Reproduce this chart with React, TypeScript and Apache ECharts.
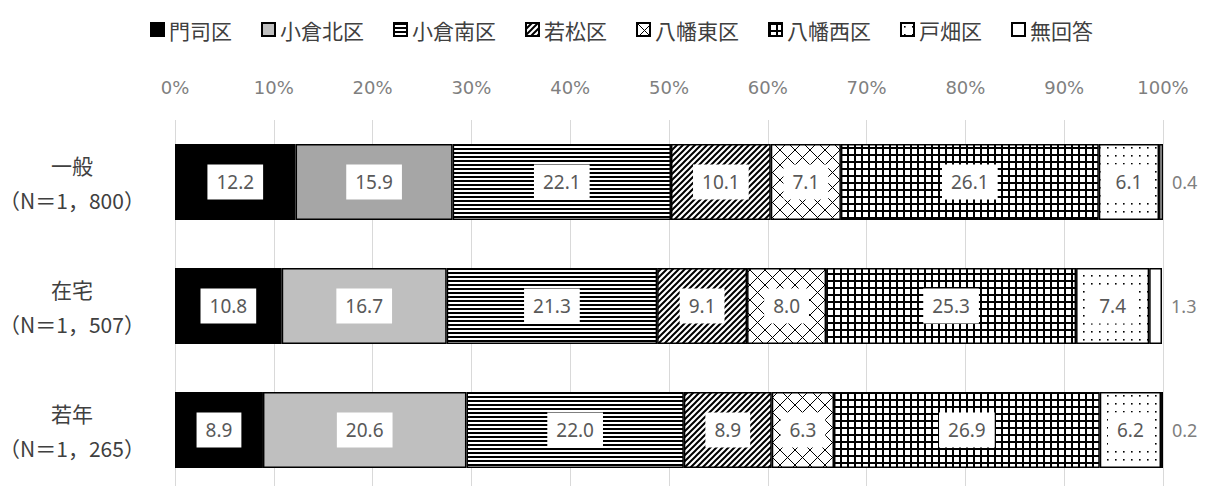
import React, { useEffect, useRef } from "react";
import * as echarts from "echarts";

const categories = ["一般\n（N＝1，800）", "在宅\n（N＝1，507）", "若年\n（N＝1，265）"];
const seriesNames = ["門司区", "小倉北区", "小倉南区", "若松区", "八幡東区", "八幡西区", "戸畑区", "無回答"];
const moji = [12.2, 10.8, 8.9];
const kokuraKita = [15.9, 16.7, 20.6];
const kokuraMinami = [22.1, 21.3, 22.0];
const wakamatsu = [10.1, 9.1, 8.9];
const yahataHigashi = [7.1, 8.0, 6.3];
const yahataNishi = [26.1, 25.3, 26.9];
const tobata = [6.1, 7.4, 6.2];
const noAnswer = [0.4, 1.3, 0.2];
const seriesValues = [moji, kokuraKita, kokuraMinami, wakamatsu, yahataHigashi, yahataNishi, tobata, noAnswer];

const svgUrl = (w: number, h: number, body: string) =>
  "data:image/svg+xml;charset=utf-8," +
  encodeURIComponent(
    `<svg xmlns="http://www.w3.org/2000/svg" width="${w}" height="${h}"><rect width="${w}" height="${h}" fill="#ffffff"/>${body}</svg>`
  );

const pattern = (w: number, h: number, body: string) => ({
  image: svgUrl(w, h, body),
  imageWidth: w,
  imageHeight: h,
  repeat: "repeat",
});

const fills: any[] = [
  "#000000",
  "#bfbfbf",
  pattern(4, 4, `<rect x="0" y="0" width="4" height="2" fill="#000"/>`),
  pattern(6, 6, `<path d="M-1,7 L7,-1 M-1,1 L1,-1 M5,7 L7,5" stroke="#000" stroke-width="2" fill="none"/>`),
  pattern(15, 15, `<path d="M0,0 L15,15 M15,0 L0,15" stroke="#000" stroke-width="1" fill="none"/>`),
  pattern(7, 7, `<rect x="0" y="0" width="2" height="7" fill="#000"/><rect x="0" y="0" width="7" height="2" fill="#000"/>`),
  pattern(8, 8, `<rect x="3" y="3" width="1.6" height="1.6" fill="#000"/>`),
  "#ffffff",
];

export default function App() {
  const ref = useRef<HTMLDivElement>(null);
  useEffect(() => {
    if (!ref.current) return;
    const chart = echarts.init(ref.current, undefined, { renderer: "svg" });
    const series = seriesNames.map((name, si) => {
      const isLast = si === seriesNames.length - 1;
      return {
        name,
        type: "bar",
        stack: "total",
        barWidth: 76,
        data: seriesValues[si].map((v, ci) =>
          si === 1 && ci === 0 ? { value: v, itemStyle: { color: "#a6a6a6" } } : v
        ),
        itemStyle: { color: fills[si], borderColor: "#000", borderWidth: 1.5 },
        label: isLast
          ? {
              show: true,
              position: "right",
              distance: 9,
              color: "#7f7f7f",
              fontSize: 18,
              fontFamily: "Noto Sans",
              formatter: (p: any) => Number(p.value).toFixed(1),
            }
          : {
              show: true,
              position: "inside",
              color: "#595959",
              fontSize: 19,
              fontFamily: "Noto Sans",
              backgroundColor: "#ffffff",
              padding: [8, 9],
              formatter: (p: any) => Number(p.value).toFixed(1),
            },
      };
    });
    chart.setOption({
      animation: false,
      legend: {
        top: 14,
        left: 145,
        icon: "rect",
        itemWidth: 13,
        itemHeight: 13,
        itemGap: 29,
        textStyle: { fontSize: 21, color: "#404040", fontFamily: "Noto Sans CJK JP" },
        data: seriesNames,
      },
      grid: { left: 175, right: 44, top: 120, height: 372, outerBoundsMode: "none", containLabel: false },
      xAxis: {
        type: "value",
        position: "top",
        min: 0,
        max: 100,
        interval: 10,
        axisLine: { show: false },
        axisTick: { show: false },
        axisLabel: {
          formatter: "{value}%",
          color: "#7f7f7f",
          fontSize: 18,
          fontFamily: "DejaVu Sans",
          margin: 24,
        },
        splitLine: { show: true, lineStyle: { color: "#d9d9d9", width: 1 } },
      },
      yAxis: {
        type: "category",
        inverse: true,
        data: categories,
        axisLine: { show: false },
        axisTick: { show: false },
        axisLabel: {
          align: "center",
          margin: 103,
          color: "#404040",
          fontSize: 21,
          lineHeight: 35,
          fontFamily: "Noto Sans CJK JP",
        },
      },
      series,
    });
    return () => chart.dispose();
  }, []);
  return (
    <div
      ref={ref}
      style={{ position: "fixed", left: 0, top: 0, width: 1207, height: 486, background: "#fff" }}
    />
  );
}
